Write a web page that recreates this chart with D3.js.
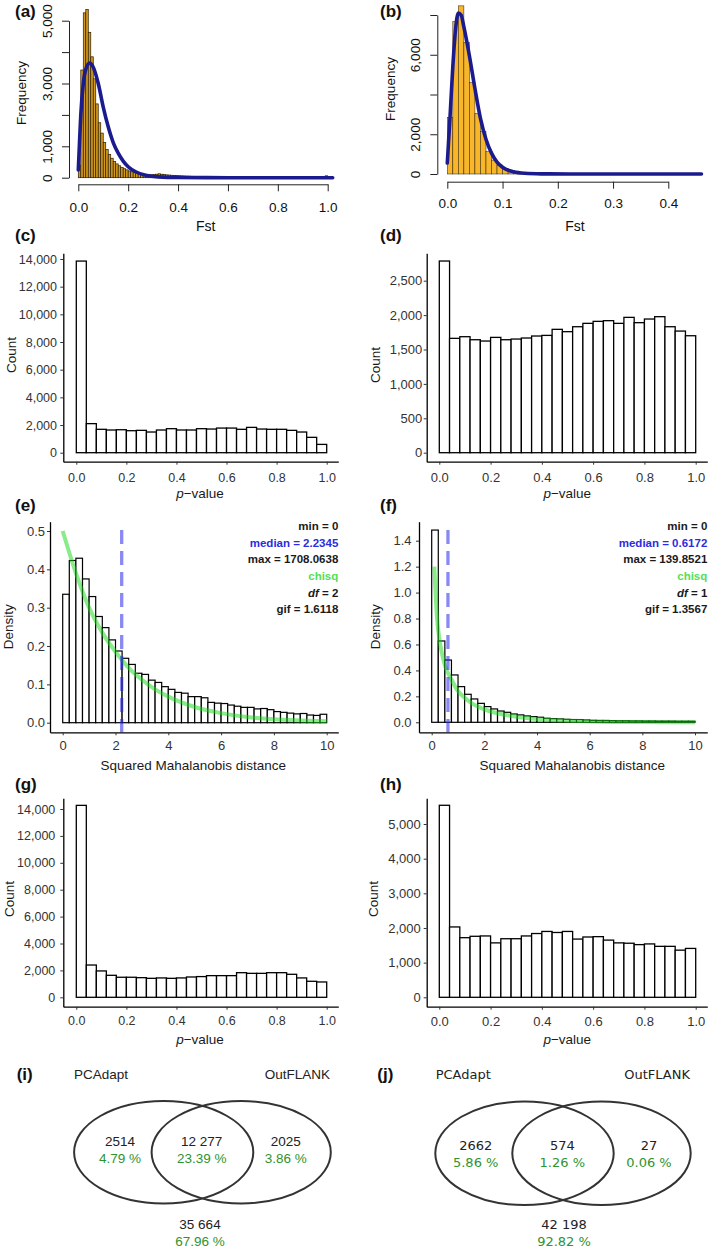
<!DOCTYPE html>
<html>
<head>
<meta charset="utf-8">
<script src="https://cdn.jsdelivr.net/npm/d3@7"></script>
<style>
  body { margin: 0; background: #fff; }
  svg { display: block; }
</style>
</head>
<body>
<svg id="fig" width="709" height="1249" font-family="'Liberation Sans', Arial, sans-serif"></svg>
<script>
// ---- values ----

// (a) Fst histogram, bins of 0.01
var fstBinA = 0.01;
var fstCountsA = [400, 3430, 5250, 5360, 4630, 3850, 3150, 2350, 1750, 1420,
  1120, 900, 740, 620, 520, 440, 380, 330, 285, 250,
  215, 190, 165, 145, 130, 118, 108, 100, 95, 95,
  100, 112, 125, 110, 98, 90, 85, 78, 72, 66,
  62, 58, 54, 50, 48, 45, 42, 40, 38, 36,
  34, 32, 30, 30, 28, 27, 26, 25, 24, 23,
  22, 21, 20, 20, 19, 18, 18, 17, 16, 16,
  15, 15, 14, 14, 13, 13, 12, 12, 12, 11,
  11, 11, 10, 10, 10, 10, 10, 10, 10, 11,
  11, 12, 12, 13, 14, 15, 18, 22, 30, 60, 30, 15];
var fstCurveXA = [0, 0.005, 0.01, 0.02, 0.03, 0.045, 0.06, 0.08, 0.10, 0.12, 0.14, 0.16, 0.18, 0.20, 0.23, 0.27, 0.32, 0.40, 0.60, 1.02];
var fstCurveYA = [250, 1150, 2000, 3000, 3450, 3650, 3520, 3000, 2250, 1620, 1120, 780, 530, 350, 190, 80, 25, 5, 0, 0];

// (b) Fst histogram, bins of 0.01
var fstBinB = 0.01;
var fstCountsB = [2850, 7670, 8460, 6610, 4600, 3050, 2130, 1120, 700, 450,
  285, 170, 100, 55, 30, 20, 14, 10, 8, 6,
  5, 4, 3, 3, 2, 2, 2, 1, 1, 1,
  1, 1, 1, 1, 1, 0, 0, 0, 0, 0, 0, 0, 0, 0, 0, 0];
var fstCurveXB = [0, 0.005, 0.01, 0.015, 0.02, 0.025, 0.03, 0.04, 0.05, 0.06, 0.07, 0.08, 0.09, 0.10, 0.12, 0.14, 0.17, 0.22, 0.46];
var fstCurveYB = [550, 2900, 5400, 7300, 8100, 8000, 7400, 5950, 4300, 2800, 1750, 1050, 600, 340, 110, 35, 8, 0, 0];

// (c) (d) (g) (h) p-value histograms, bins of 0.04
var pBin = 0.04;
var pCountsC = [13850, 2100, 1690, 1640, 1660, 1590, 1615, 1495, 1640, 1735, 1640, 1640, 1735, 1710, 1780, 1780, 1690, 1830, 1710, 1690, 1690, 1615, 1495, 1110, 600];
var pCountsD = [2786, 1662, 1686, 1642, 1623, 1676, 1642, 1652, 1667, 1696, 1705, 1793, 1759, 1831, 1880, 1909, 1919, 1880, 1967, 1890, 1943, 1977, 1831, 1768, 1700];
var pCountsG = [14270, 2400, 1960, 1635, 1490, 1490, 1460, 1410, 1440, 1410, 1440, 1510, 1540, 1610, 1610, 1610, 1830, 1780, 1780, 1830, 1830, 1710, 1440, 1190, 1140];
var pCountsH = [5540, 2030, 1720, 1760, 1770, 1570, 1690, 1690, 1770, 1840, 1900, 1870, 1900, 1680, 1740, 1750, 1650, 1570, 1560, 1520, 1540, 1470, 1470, 1360, 1410];

// (e) (f) squared Mahalanobis distance densities, bins of 0.25
var mdBin = 0.25;
var densE = [0.335, 0.423, 0.429, 0.375, 0.329, 0.277, 0.248, 0.216, 0.187, 0.168,
  0.152, 0.129, 0.126, 0.111, 0.105, 0.094, 0.087, 0.079, 0.077, 0.068,
  0.068, 0.065, 0.053, 0.051, 0.050, 0.046, 0.043, 0.040, 0.040, 0.036,
  0.037, 0.034, 0.029, 0.027, 0.025, 0.023, 0.024, 0.020, 0.019, 0.022];
var densF = [1.482, 0.627, 0.480, 0.365, 0.275, 0.216, 0.180, 0.146, 0.121, 0.103,
  0.087, 0.077, 0.064, 0.057, 0.049, 0.044, 0.039, 0.031, 0.028, 0.026,
  0.023, 0.021, 0.021, 0.018, 0.015, 0.014, 0.014, 0.013, 0.012, 0.012,
  0.011, 0.011, 0.010, 0.010, 0.009, 0.009, 0.009, 0.008, 0.008, 0.008];
var chiXE = [0, 0.5, 1, 1.5, 2, 2.5, 3, 3.5, 4, 5, 6, 7, 8, 9, 10];
var chiYE = [0.5, 0.39, 0.30, 0.235, 0.185, 0.143, 0.112, 0.087, 0.068, 0.041, 0.025, 0.015, 0.009, 0.006, 0.004];
var chiXF = [0.1, 0.2, 0.3, 0.4, 0.5, 0.75, 1, 1.25, 1.5, 2, 2.5, 3, 4, 5, 6, 8, 10];
var chiYF = [1.2, 0.81, 0.63, 0.52, 0.44, 0.33, 0.24, 0.19, 0.15, 0.10, 0.07, 0.05, 0.025, 0.013, 0.007, 0.002, 0.001];
var medianE = 2.2345, medianF = 0.6172;
var statsE = ["min = 0", "median = 2.2345", "max = 1708.0638", "chisq", "df = 2", "gif = 1.6118"];
var statsF = ["min = 0", "median = 0.6172", "max = 139.8521", "chisq", "df = 1", "gif = 1.3567"];
var statColors = ["#1a1a1a", "#2c2ce0", "#1a1a1a", "#55e055", "#1a1a1a", "#1a1a1a"];

// (i) (j) Venn diagrams: left only, both, right only, neither
var vennSets = ["PCAdapt", "OutFLANK"];
var vennCountsI = ["2514", "12 277", "2025", "35 664"];
var vennPctI = ["4.79 %", "23.39 %", "3.86 %", "67.96 %"];
var vennCountsJ = ["2662", "574", "27", "42 198"];
var vennPctJ = ["5.86 %", "1.26 %", "0.06 %", "92.82 %"];

var svg = d3.select("#fig");
var fmtK = d3.format(",");
var fmt1 = d3.format(".1f");

function panelLabel(txt, x, y) {
  svg.append("text").attr("x", x).attr("y", y)
    .attr("font-size", 17).attr("font-weight", "bold").attr("fill", "#111")
    .text(txt);
}

function styleAxis(sel, size, col) {
  sel.attr("font-family", null).attr("font-size", size).attr("color", col);
}

// R base-graphics style histogram with fitted curve
function baseHist(o) {
  var x = d3.scaleLinear().domain(o.xDomain).range(o.xRange);
  var y = d3.scaleLinear().domain(o.yDomain).range(o.yRange);
  var g = svg.append("g");

  g.selectAll("rect.bar").data(o.counts).enter().append("rect")
    .attr("class", "bar")
    .attr("x", function(d, i) { return x(i * o.bin); })
    .attr("width", function(d, i) { return x((i + 1) * o.bin) - x(i * o.bin); })
    .attr("y", function(d) { return y(d); })
    .attr("height", function(d) { return y(0) - y(d); })
    .style("fill", o.fill)
    .style("stroke", "#2b1d00")
    .style("stroke-width", o.barStroke);

  var line = d3.line()
    .x(function(d) { return x(d[0]); })
    .y(function(d) { return y(d[1]); })
    .curve(d3.curveMonotoneX);
  g.append("path").datum(d3.zip(o.curveX, o.curveY))
    .attr("d", line)
    .style("fill", "none").style("stroke", "#1b1b8e")
    .style("stroke-width", 3.6).style("stroke-linecap", "round");

  var yAx = g.append("g").attr("transform", "translate(" + o.yAxisX + ",0)")
    .call(d3.axisLeft(y).tickValues(o.yTicks).tickSize(7).tickSizeOuter(0)
      .tickFormat(function(d) { return o.yLabels.indexOf(d) > -1 ? fmtK(d) : ""; }));
  styleAxis(yAx, 13.5, "#222");
  yAx.selectAll("text").attr("transform", "rotate(-90)")
    .attr("x", 0).attr("y", -17).attr("dy", 0).attr("text-anchor", "middle").attr("fill", "#111");

  var xAx = g.append("g").attr("transform", "translate(0," + o.xAxisY + ")")
    .call(d3.axisBottom(x).tickValues(o.xTicks).tickSize(7).tickPadding(o.xPad)
      .tickSizeOuter(0).tickFormat(fmt1));
  styleAxis(xAx, 13.5, "#222");
  xAx.selectAll("text").attr("fill", "#111");

  g.append("text").attr("x", o.xTitle[0]).attr("y", o.xTitle[1])
    .attr("text-anchor", "middle").attr("font-size", 14).attr("fill", "#111").text("Fst");
  g.append("text").attr("transform", "translate(" + o.yTitle[0] + "," + o.yTitle[1] + ") rotate(-90)")
    .attr("text-anchor", "middle").attr("font-size", 13.5).attr("fill", "#111").text("Frequency");
}

function pTitle(g, pos) {
  var t = g.append("text").attr("x", pos[0]).attr("y", pos[1])
    .attr("text-anchor", "middle").attr("font-size", 13.5).attr("fill", "#1a1a1a");
  t.append("tspan").attr("font-style", "italic").text("p");
  t.append("tspan").text("\u2212value");
}

function yTitle(g, txt, pos) {
  g.append("text").attr("transform", "translate(" + pos[0] + "," + pos[1] + ") rotate(-90)")
    .attr("text-anchor", "middle").attr("font-size", 13.5).attr("fill", "#1a1a1a").text(txt);
}

// ggplot classic style axes around a panel
function ggAxes(g, x, y, o, xTicks, xFmt, yFmt) {
  var xa = x.copy().domain([x.invert(o.left), x.invert(o.right)]).range([o.left, o.right]);
  var ya = y.copy().domain([y.invert(o.bottom), y.invert(o.top)]).range([o.bottom, o.top]);
  var yAx = g.append("g").attr("transform", "translate(" + o.left + ",0)")
    .call(d3.axisLeft(ya).tickValues(o.yTicks).tickSize(3).tickPadding(o.yPad)
      .tickSizeOuter(0).tickFormat(yFmt));
  styleAxis(yAx, o.tickFont, "#333");
  yAx.select(".domain").style("stroke", "#000").style("stroke-width", 1.3);
  var xAx = g.append("g").attr("transform", "translate(0," + o.bottom + ")")
    .call(d3.axisBottom(xa).tickValues(xTicks).tickSize(3).tickPadding(o.xPad)
      .tickSizeOuter(0).tickFormat(xFmt));
  styleAxis(xAx, o.tickFont, "#333");
  xAx.select(".domain").style("stroke", "#000").style("stroke-width", 1.3);
}

function ggHist(o) {
  var x = d3.scaleLinear().domain([0, 1]).range(o.xRange);
  var y = d3.scaleLinear().domain([0, o.yMax]).range(o.yRange);
  var g = svg.append("g");
  g.selectAll("rect.bar").data(o.counts).enter().append("rect")
    .attr("class", "bar")
    .attr("x", function(d, i) { return x(i * pBin); })
    .attr("width", function(d, i) { return x((i + 1) * pBin) - x(i * pBin); })
    .attr("y", function(d) { return y(d); })
    .attr("height", function(d) { return y(0) - y(d); })
    .style("fill", "#fff").style("stroke", "#000").style("stroke-width", 1.3);
  ggAxes(g, x, y, o, [0, 0.2, 0.4, 0.6, 0.8, 1], fmt1, fmtK);
  pTitle(g, o.xTitle);
  yTitle(g, "Count", o.yTitle);
}

function densPanel(o) {
  var x = d3.scaleLinear().domain([0, 10]).range(o.xRange);
  var y = d3.scaleLinear().domain([0, o.yMax]).range(o.yRange);
  var g = svg.append("g");
  g.selectAll("rect.bar").data(o.dens).enter().append("rect")
    .attr("class", "bar")
    .attr("x", function(d, i) { return x(i * mdBin); })
    .attr("width", function(d, i) { return x((i + 1) * mdBin) - x(i * mdBin); })
    .attr("y", function(d) { return y(d); })
    .attr("height", function(d) { return y(0) - y(d); })
    .style("fill", "#fff").style("stroke", "#000").style("stroke-width", 1.2);

  var line = d3.line()
    .x(function(d) { return x(d[0]); })
    .y(function(d) { return y(d[1]); })
    .curve(d3.curveMonotoneX);
  g.append("path").datum(d3.zip(o.chiX, o.chiY)).attr("d", line)
    .style("fill", "none").style("stroke", "rgba(20,215,20,0.5)").style("stroke-width", 4);

  g.append("line")
    .attr("x1", x(o.median)).attr("x2", x(o.median))
    .attr("y1", o.dashTop).attr("y2", o.bottom)
    .style("stroke", "rgba(40,40,235,0.55)").style("stroke-width", 3.3)
    .style("stroke-dasharray", "14,7");

  ggAxes(g, x, y, o, [0, 2, 4, 6, 8, 10], d3.format("d"), fmt1);

  g.selectAll("text.stat").data(o.stats).enter().append("text")
    .attr("class", "stat")
    .attr("x", o.right)
    .attr("y", function(d, i) { return o.statTop + i * 16.6; })
    .attr("text-anchor", "end").attr("font-size", 11.5).attr("font-weight", "bold")
    .attr("fill", function(d, i) { return statColors[i]; })
    .each(function(d) {
      var t = d3.select(this);
      if (d.indexOf("df") === 0) {
        t.append("tspan").attr("font-style", "italic").text("df");
        t.append("tspan").text(d.slice(2));
      } else {
        t.text(d);
      }
    });

  g.append("text").attr("x", o.xTitle[0]).attr("y", o.xTitle[1])
    .attr("text-anchor", "middle").attr("font-size", 13.5).attr("fill", "#1a1a1a")
    .text("Squared Mahalanobis distance");
  yTitle(g, "Density", o.yTitle);
}

function venn(o) {
  var g = svg.append("g");
  if (o.font) g.attr("font-family", o.font);
  g.selectAll("ellipse").data(o.cx).enter().append("ellipse")
    .attr("cx", function(d) { return d; }).attr("cy", o.cy)
    .attr("rx", o.rx).attr("ry", o.ry)
    .style("fill", "none").style("stroke", "#333").style("stroke-width", 2);
  g.append("text").attr("x", o.nameX[0]).attr("y", o.nameY)
    .attr("font-size", o.size).attr("fill", "#222").text(vennSets[0]);
  g.append("text").attr("x", o.nameX[1]).attr("y", o.nameY).attr("text-anchor", "end")
    .attr("font-size", o.size).attr("fill", "#222").text(vennSets[1]);
  g.selectAll("text.cnt").data(o.counts).enter().append("text")
    .attr("class", "cnt")
    .attr("x", function(d, i) { return o.tx[i]; })
    .attr("y", function(d, i) { return o.ty[i]; })
    .attr("text-anchor", "middle").attr("font-size", o.size).attr("fill", "#222")
    .text(function(d) { return d; });
  g.selectAll("text.pct").data(o.pcts).enter().append("text")
    .attr("class", "pct")
    .attr("x", function(d, i) { return o.tx[i]; })
    .attr("y", function(d, i) { return o.ty[i] + 17.3; })
    .attr("text-anchor", "middle").attr("font-size", o.size).attr("fill", "#2f932f")
    .text(function(d) { return d; });
}

// ---- panels ----
baseHist({
  counts: fstCountsA, bin: fstBinA, fill: "#d39a22", barStroke: 0.7,
  curveX: fstCurveXA, curveY: fstCurveYA,
  xDomain: [0, 1], xRange: [78.3, 327.7], yDomain: [0, 5000], yRange: [177.7, 20.7],
  yAxisX: 69, xAxisY: 184.3, xPad: 10.9,
  yTicks: [0, 1000, 2000, 3000, 4000, 5000], yLabels: [0, 1000, 3000, 5000],
  xTicks: [0, 0.2, 0.4, 0.6, 0.8, 1],
  xTitle: [205.7, 231], yTitle: [26, 93]
});
baseHist({
  counts: fstCountsB, bin: fstBinB, fill: "#f8b62a", barStroke: 0.5,
  curveX: fstCurveXB, curveY: fstCurveYB,
  xDomain: [0, 0.4], xRange: [447.3, 668.3], yDomain: [0, 8000], yRange: [174, 15],
  yAxisX: 437.3, xAxisY: 181.7, xPad: 9.8,
  yTicks: [0, 2000, 4000, 6000, 8000], yLabels: [0, 2000, 6000],
  xTicks: [0, 0.1, 0.2, 0.3, 0.4],
  xTitle: [575, 231], yTitle: [395, 89]
});

ggHist({
  counts: pCountsC, yMax: 14000, xRange: [76.3, 326.7], yRange: [452.7, 259],
  left: 63.3, right: 338.3, top: 253.3, bottom: 461.7,
  yTicks: d3.range(0, 14001, 2000), yPad: 3.3, xPad: 8.3, tickFont: 12.5,
  xTitle: [200, 497.5], yTitle: [16, 355]
});
ggHist({
  counts: pCountsD, yMax: 2500, xRange: [439.3, 695.7], yRange: [452.7, 280.7],
  left: 426.7, right: 707.3, top: 253.3, bottom: 461.7,
  yTicks: d3.range(0, 2501, 500), yPad: 1.5, xPad: 8.3, tickFont: 13,
  xTitle: [567.3, 497.5], yTitle: [380, 365]
});

densPanel({
  dens: densE, chiX: chiXE, chiY: chiYE, median: medianE, stats: statsE,
  yMax: 0.5, xRange: [62.7, 326.7], yRange: [722.7, 531],
  left: 50, right: 338.3, top: 521.7, bottom: 732.3, dashTop: 530, statTop: 530.1,
  yTicks: [0, 0.1, 0.2, 0.3, 0.4, 0.5], yPad: 2, xPad: 5, tickFont: 13,
  xTitle: [193.3, 769.5], yTitle: [13, 626.7]
});
densPanel({
  dens: densF, chiX: chiXF, chiY: chiYF, median: medianF, stats: statsF,
  yMax: 1.4, xRange: [431.7, 695], yRange: [722.3, 540.7],
  left: 419, right: 707.3, top: 521.7, bottom: 732.3, dashTop: 530, statTop: 530.1,
  yTicks: [0, 0.2, 0.4, 0.6, 0.8, 1.0, 1.2, 1.4], yPad: 4.5, xPad: 5, tickFont: 13,
  xTitle: [572.3, 769.5], yTitle: [380, 626.7]
});

ggHist({
  counts: pCountsG, yMax: 14000, xRange: [76.3, 326.7], yRange: [997.3, 809],
  left: 63.3, right: 338.3, top: 798.3, bottom: 1006.7,
  yTicks: d3.range(0, 14001, 2000), yPad: 5, xPad: 6.6, tickFont: 12.5,
  xTitle: [200, 1043.5], yTitle: [13.5, 899]
});
ggHist({
  counts: pCountsH, yMax: 5000, xRange: [439.3, 695.7], yRange: [997.3, 824],
  left: 426.7, right: 707.3, top: 798.3, bottom: 1006.7,
  yTicks: d3.range(0, 5001, 1000), yPad: 3, xPad: 6.6, tickFont: 13,
  xTitle: [567.3, 1043.5], yTitle: [377.5, 899]
});

venn({
  counts: vennCountsI, pcts: vennPctI, size: 13.5, font: null,
  cx: [163.7, 241.2], cy: 1152.2, rx: 89.6, ry: 51.2,
  nameX: [74, 330], nameY: 1078.5,
  tx: [120, 201.7, 285.7, 200], ty: [1145.8, 1145.8, 1145.8, 1228.6]
});
venn({
  counts: vennCountsJ, pcts: vennPctJ, size: 13, font: "'DejaVu Sans', Verdana, sans-serif",
  cx: [524.5, 601.5], cy: 1153.3, rx: 89.2, ry: 51.7,
  nameX: [435.7, 690], nameY: 1078.5,
  tx: [475.7, 562.3, 649, 564], ty: [1149.7, 1149.7, 1149.7, 1228.6]
});

panelLabel("(a)", 15, 17);
panelLabel("(b)", 380, 17);
panelLabel("(c)", 15, 240.5);
panelLabel("(d)", 380, 240.5);
panelLabel("(e)", 15, 511);
panelLabel("(f)", 380, 511);
panelLabel("(g)", 15, 790);
panelLabel("(h)", 380, 790);
panelLabel("(i)", 16.7, 1080);
panelLabel("(j)", 377.3, 1080);
</script>
</body>
</html>
